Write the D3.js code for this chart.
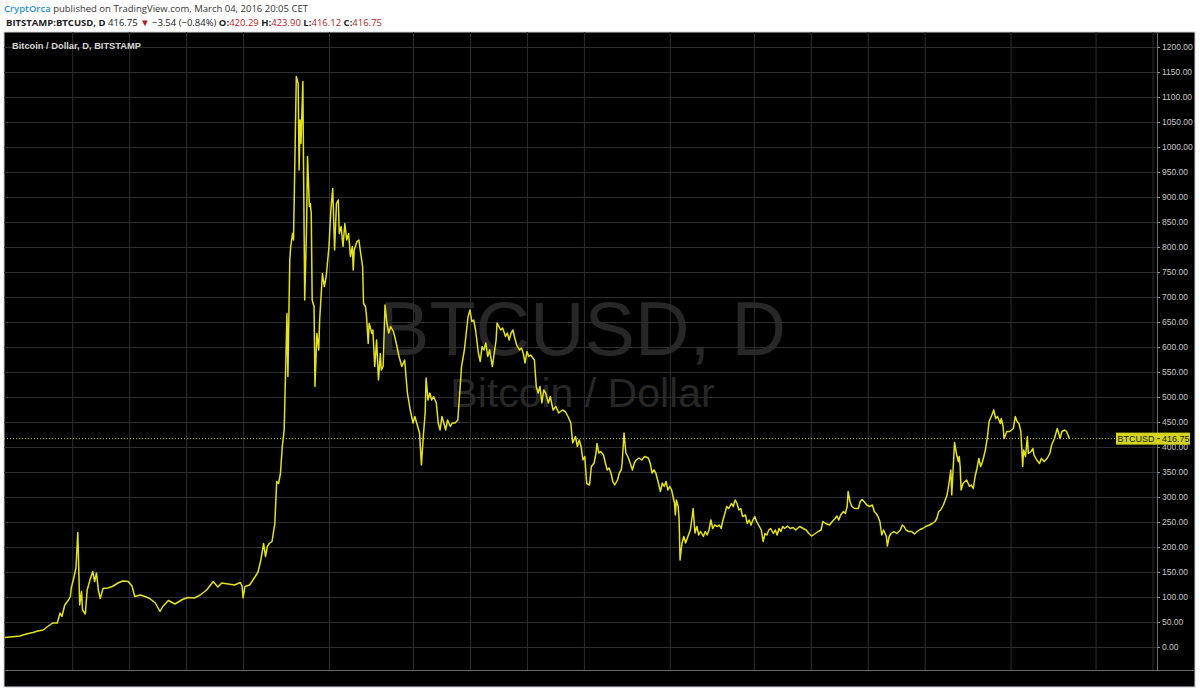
<!DOCTYPE html>
<html><head><meta charset="utf-8">
<script src="https://cdn.jsdelivr.net/npm/d3@7"></script>
<style>html,body{margin:0;padding:0;background:#fff;}svg{display:block}</style>
</head><body><svg id="c" width="1200" height="693"></svg>
<script>
// ---- data (daily close, BITSTAMP BTCUSD) ----
const startDate = "2013-01-19";          // first bar
const endDate = "2016-03-04";            // last bar
// days since startDate
const dayOffsets = [0,5,11,16,21,25,30,35,41,45,48,51,56,59,61,64,68,70,71,74,76,78,80,82,83,86,88,91,94,96,98,100,102,105,110,115,121,126,132,136,139,145,150,155,161,166,169,175,182,190,196,203,209,216,223,228,232,239,246,252,254,255,257,262,268,271,274,277,279,281,283,286,289,291,293,295,297,299,302,303,305,306,308,309,310,312,314,315,316,317,319,320,321,323,324,326,327,328,329,331,332,334,336,337,340,342,344,347,349,351,353,355,357,358,360,362,364,366,368,370,372,373,374,377,379,381,383,384,386,387,389,390,393,394,396,398,400,402,403,405,407,409,411,413,416,419,422,425,428,431,434,437,439,442,444,446,448,450,451,453,455,457,459,462,464,466,468,470,472,474,477,479,482,485,487,489,492,494,496,498,500,502,504,507,509,511,513,515,517,519,522,524,526,527,529,531,533,536,538,540,542,544,546,548,551,553,555,557,559,561,563,567,569,571,573,575,577,579,582,584,587,590,593,597,600,603,606,608,611,613,615,617,619,621,623,626,628,631,633,634,636,638,641,643,645,647,649,651,653,656,658,660,661,663,665,667,669,672,674,676,679,682,685,689,691,693,695,697,699,702,704,706,708,710,712,714,717,718,719,721,722,723,725,727,729,732,734,736,737,739,741,743,745,748,750,752,754,756,758,760,763,765,767,769,771,773,775,778,780,782,784,786,788,790,793,795,797,799,801,803,805,808,810,812,814,816,818,820,823,825,827,829,831,833,835,838,841,844,847,851,855,858,861,864,868,871,874,876,879,883,886,889,891,893,895,898,900,902,903,905,907,910,914,916,918,920,923,926,929,931,933,935,937,939,941,944,945,947,949,952,955,959,961,963,965,968,971,974,977,980,983,986,990,993,996,998,1000,1002,1005,1007,1009,1011,1013,1014,1017,1019,1021,1022,1023,1024,1026,1030,1033,1035,1037,1039,1041,1043,1045,1047,1050,1052,1054,1057,1059,1061,1063,1066,1067,1069,1070,1073,1076,1080,1082,1084,1086,1088,1090,1091,1093,1095,1096,1099,1101,1102,1105,1108,1110,1113,1116,1119,1121,1124,1127,1128,1130,1132,1135,1137,1140];
const closes = [19,20,21,22,25,27,29,32,34,40,44,48,48,68,61,84,94,101,118,141,158,229,84,111,74,66,114,134,151,131,148,114,97,117,118,121,128,132,131,122,101,104,101,97,88,71,81,93,86,95,99,98,104,114,131,120,128,126,124,129,121,98,121,124,141,150,174,207,181,201,207,211,247,331,327,347,401,434,667,541,774,801,827,814,921,1141,1127,954,1054,1007,1131,907,694,841,981,881,887,867,694,681,521,627,594,654,747,721,741,801,874,917,794,887,894,827,841,801,847,814,827,781,801,754,794,811,814,787,761,687,681,667,607,647,627,634,561,614,534,587,554,561,684,648,628,641,631,608,581,561,574,508,474,448,461,441,428,364,421,468,538,494,508,494,501,488,448,434,461,448,434,454,441,448,448,454,508,561,594,628,661,674,651,654,634,588,571,601,594,608,581,594,561,588,614,648,641,634,638,621,628,614,628,634,618,604,594,598,588,568,591,581,584,574,521,508,521,488,514,508,488,501,474,481,468,474,471,461,448,408,421,401,414,401,374,381,327,324,361,368,388,407,388,391,384,368,354,358,348,331,324,334,348,354,368,428,388,381,371,354,368,374,378,374,381,378,368,348,354,348,334,311,328,321,331,314,321,314,288,264,294,281,254,174,207,221,208,224,234,261,277,228,241,224,231,221,231,224,234,254,237,244,241,244,237,254,267,281,277,287,281,294,287,274,277,261,264,247,254,244,254,261,251,241,234,211,227,224,234,237,227,234,224,237,231,241,237,242,237,239,234,241,237,234,227,222,227,231,234,251,247,244,251,257,262,254,264,271,267,281,311,291,281,277,277,291,295,291,284,281,284,271,267,261,251,224,234,221,202,221,227,231,227,234,244,241,234,231,231,226,231,235,237,241,244,247,251,257,271,274,284,294,304,327,354,304,409,387,371,381,361,314,327,334,321,324,317,341,357,377,361,371,394,417,451,464,474,457,461,447,457,441,417,431,431,437,461,451,447,431,361,394,381,421,387,391,397,384,374,367,377,371,377,387,404,417,437,431,417,431,434,431,416.75];
// time-axis grid dates and price-axis ticks
const gridDates = ["2013-04-01","2013-06-01","2013-08-01","2013-10-01","2014-01-01","2014-04-01","2014-06-01","2014-08-01","2014-10-01","2015-01-01","2015-04-01","2015-06-01","2015-08-01","2015-10-01","2016-01-01","2016-04-01","2016-06-01"];
const priceTicks = [0,50,100,150,200,250,300,350,400,450,500,550,600,650,700,750,800,850,900,950,1000,1050,1100,1150,1200];
const lastClose = 416.75;
const symbol = "BTCUSD";
const chartTitle = "Bitcoin / Dollar, D, BITSTAMP";
const watermark1 = "BTCUSD, D";
const watermark2 = "Bitcoin / Dollar";
const headerAuthor = "CryptOrca";
const headerRest = " published on TradingView.com, March 04, 2016 20:05 CET";
const quoteParts = [
  {t:"BITSTAMP:BTCUSD, D", k:"b"}, {t:" 416.75 ", k:"n"}, {t:"▼", k:"r"}, {t:" −3.54 (−0.84%) ", k:"n"},
  {t:"O:", k:"b"}, {t:"420.29", k:"r"}, {t:" H:", k:"b"}, {t:"423.90", k:"r"},
  {t:" L:", k:"b"}, {t:"416.12", k:"r"}, {t:" C:", k:"b"}, {t:"416.75", k:"r"}
];

// ---- layout ----
const frame = {l:4, t:32, r:1195, b:687};
const plotR = 1157, plotB = 670;
const svg = d3.select("#c");
const parse = d3.utcParse("%Y-%m-%d");
const start = parse(startDate);
const series = dayOffsets.map((d,i)=>({date:d3.utcDay.offset(start,d), close:closes[i]}));

const x = d3.scaleUtc().domain([start, parse(endDate)]).range([5, 1069.4]);
const y = d3.scaleLinear().domain([0,1200]).range([647,47]);

// header
svg.append("rect").attr("width",1200).attr("height",693).attr("fill","#fff");
const h1 = svg.append("text").attr("x",4).attr("y",12).attr("font-family","'Open Sans', 'Noto Sans', sans-serif").attr("font-size",9.5);
h1.append("tspan").attr("fill","#2a8fd4").attr("font-weight",600).text(headerAuthor);
h1.append("tspan").attr("fill","#333").text(headerRest);
const h2 = svg.append("text").attr("x",6).attr("y",26).attr("font-family","'Open Sans', 'Noto Sans', sans-serif").attr("font-size",9.5).attr("fill","#222");
quoteParts.forEach(p=>{
  const ts = h2.append("tspan").text(p.t);
  if(p.k==="b") ts.attr("font-weight",700);
  if(p.k==="r") ts.attr("fill","#b71c1c");
});

// frame
svg.append("rect").attr("x",frame.l).attr("y",frame.t).attr("width",frame.r-frame.l).attr("height",frame.b-frame.t)
  .attr("fill","#000").attr("stroke","#d0d4da").attr("stroke-width",1);

// watermark
const wmx = (frame.l+plotR)/2 + 2;
svg.append("text").attr("x",wmx).attr("y",355).attr("text-anchor","middle")
  .attr("font-family","'Liberation Sans', Arial, sans-serif").attr("font-size",75.5).attr("fill","#272727").text(watermark1);
svg.append("text").attr("x",wmx).attr("y",407).attr("text-anchor","middle")
  .attr("font-family","'Liberation Sans', Arial, sans-serif").attr("font-size",41).attr("fill","#272727").text(watermark2);

// grid
const gx = svg.append("g").attr("transform",`translate(0,${plotB})`)
  .call(d3.axisBottom(x).tickValues(gridDates.map(parse)).tickSize(-(plotB-frame.t)).tickFormat(""));
gx.select(".domain").remove();
gx.selectAll("line").attr("stroke","#2e2e2e");
const gy = svg.append("g").attr("transform",`translate(${plotR},0)`)
  .call(d3.axisLeft(y).tickValues(priceTicks).tickSize(plotR-frame.l).tickFormat(""));
gy.select(".domain").remove();
gy.selectAll("line").attr("stroke","#2e2e2e");

// axis separators
svg.append("line").attr("x1",plotR+0.5).attr("x2",plotR+0.5).attr("y1",frame.t).attr("y2",plotB).attr("stroke","#6a6a6a");
svg.append("line").attr("x1",frame.l).attr("x2",frame.r).attr("y1",plotB+0.5).attr("y2",plotB+0.5).attr("stroke","#6a6a6a");

// price axis labels
const ay = svg.append("g").attr("transform",`translate(${plotR},0)`)
  .call(d3.axisRight(y).tickValues(priceTicks).tickSize(3).tickPadding(2).tickFormat(d3.format(".2f")));
ay.select(".domain").remove();
ay.selectAll("line").attr("stroke","#888");
ay.selectAll("text").attr("fill","#c8c8c8").attr("font-family","'Liberation Sans', Arial, sans-serif").attr("font-size",8.5);

// title inside the chart
svg.append("text").attr("x",12).attr("y",49).attr("font-family","'Liberation Sans', Arial, sans-serif")
  .attr("font-size",9.3).attr("font-weight",700).attr("fill","#d8d8d8").text(chartTitle);

// last price line
const yl = y(lastClose);
svg.append("line").attr("x1",frame.l).attr("x2",1116).attr("y1",yl).attr("y2",yl)
  .attr("stroke","#d4d400").attr("stroke-dasharray","1,2").attr("stroke-width",1);

// price line
svg.append("path").datum(series)
  .attr("d", d3.line().x(d=>x(d.date)).y(d=>y(d.close)))
  .attr("fill","none").attr("stroke","#e4e21c").attr("stroke-width",1.5).attr("stroke-linejoin","round");

// last price label
svg.append("rect").attr("x",1116).attr("y",yl-6).attr("width",74).attr("height",12).attr("fill","#d4d41e");
svg.append("line").attr("x1",plotR).attr("x2",plotR+3).attr("y1",yl).attr("y2",yl).attr("stroke","#333");
svg.append("text").attr("x",1136).attr("y",yl+3.2).attr("text-anchor","middle").attr("font-family","'Liberation Sans', Arial, sans-serif")
  .attr("font-size",9).attr("fill","#222").text(symbol);
svg.append("text").attr("x",1162).attr("y",yl+3.2).attr("font-family","'Liberation Sans', Arial, sans-serif")
  .attr("font-size",9).attr("fill","#222").text(d3.format(".2f")(lastClose));
</script></body></html>
